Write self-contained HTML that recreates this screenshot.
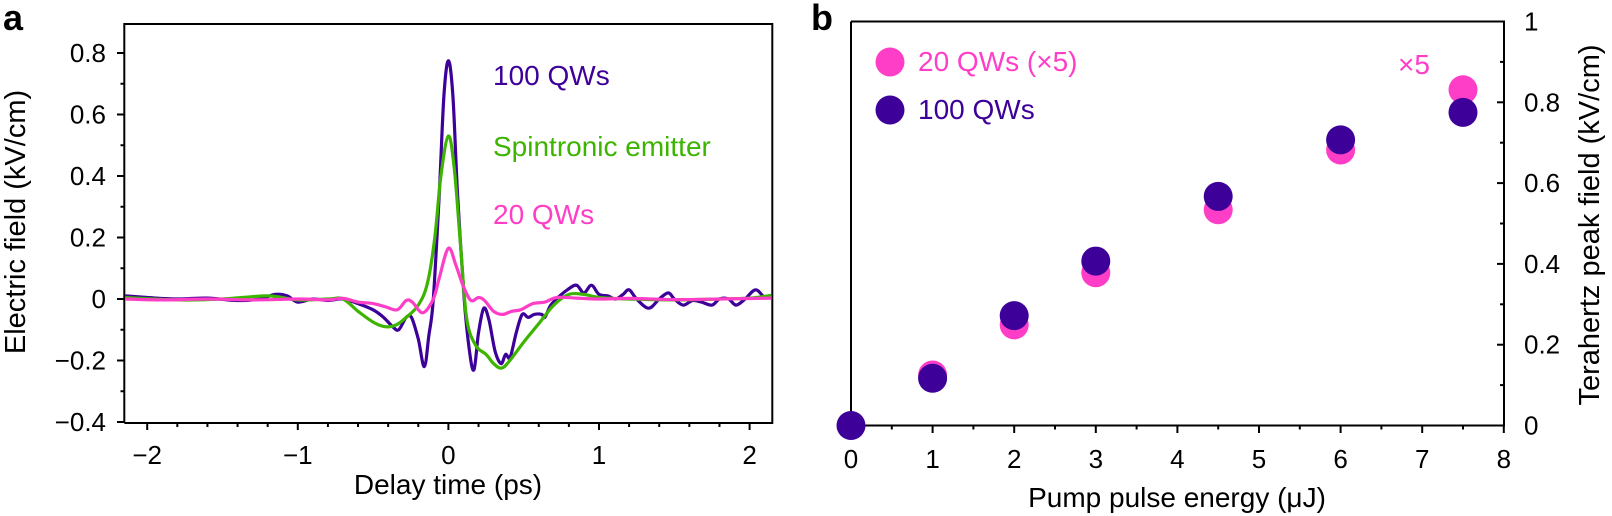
<!DOCTYPE html>
<html><head><meta charset="utf-8"><style>
html,body{margin:0;padding:0;background:#fff;}
svg{display:block;font-family:"Liberation Sans",Arial,sans-serif;}
</style></head><body>
<svg id="s" width="1612" height="516" viewBox="0 0 1612 516" xmlns="http://www.w3.org/2000/svg">
<g id="axA" stroke="#000" stroke-width="2" fill="none"></g>
<g id="curves" fill="none" stroke-width="3.2" stroke-linejoin="round"></g>
<g id="axB" stroke="#000" stroke-width="2" fill="none"></g>
<g id="dots"></g>
<g id="txt" font-size="26" fill="#000"></g>
<text x="3" y="30" font-size="36" font-weight="bold">a</text>
<text x="811" y="30" font-size="36" font-weight="bold">b</text>
<text x="493" y="85" font-size="28" fill="#3d0099">100 QWs</text>
<text x="493" y="156" font-size="28" fill="#3cb400">Spintronic emitter</text>
<text x="493" y="224" font-size="28" fill="#ff3ec8">20 QWs</text>
<text transform="translate(25,222) rotate(-90)" text-anchor="middle" font-size="29">Electric field (kV/cm)</text>
<text x="448" y="494" text-anchor="middle" font-size="28">Delay time (ps)</text>
<text x="1177" y="507" text-anchor="middle" font-size="28">Pump pulse energy (μJ)</text>
<text transform="translate(1599,225) rotate(-90)" text-anchor="middle" font-size="29">Terahertz peak field (kV/cm)</text>
<text x="918" y="71" font-size="28" fill="#ff3ec8">20 QWs (×5)</text>
<text x="918" y="119" font-size="28" fill="#3d0099">100 QWs</text>
<text x="1398" y="74" font-size="28" fill="#ff3ec8">×5</text>
</svg>
<script>
var NS="http://www.w3.org/2000/svg";
function el(p,n,a,t){var e=document.createElementNS(NS,n);for(var k in a)e.setAttribute(k,a[k]);if(t!==undefined)e.textContent=t;document.getElementById(p).appendChild(e);return e;}
var X=function(t){return 448.4+150.6*t;}, Y=function(v){return 299-307.5*v;};
el("axA","path",{d:"M124.3 423 V24 H772.3 V423 H124.3"});
for(var i=-4;i<=8;i++){var v=i/10,y=Y(v),maj=(i%2==0);el("axA","line",{x1:124.3,x2:maj?117:120.5,y1:y,y2:y});
 if(maj)el("txt","text",{x:106,y:y+9,"text-anchor":"end"},(v<0?"\u2212":"")+(Math.abs(v)<1e-9?"0":Math.abs(v).toFixed(1)));}
for(var i=-10;i<=10;i++){var t=i/5,x=X(t),maj=(i%5==0);el("axA","line",{x1:x,x2:x,y1:423,y2:maj?430:427});
 if(maj)el("txt","text",{x:x,y:464,"text-anchor":"middle"},(t<0?"\u2212":"")+Math.abs(t));}
function path(pts){var p=pts.map(function(q){return [X(q[0]),Y(q[1])];});var d="M"+p[0][0].toFixed(1)+" "+p[0][1].toFixed(1);
 for(var i=0;i<p.length-1;i++){var p0=p[i-1]||p[i],p1=p[i],p2=p[i+1],p3=p[i+2]||p2;
  var c1=[p1[0]+(p2[0]-p0[0])/6,p1[1]+(p2[1]-p0[1])/6],c2=[p2[0]-(p3[0]-p1[0])/6,p2[1]-(p3[1]-p1[1])/6];
  d+=" C"+c1[0].toFixed(1)+" "+c1[1].toFixed(1)+" "+c2[0].toFixed(1)+" "+c2[1].toFixed(1)+" "+p2[0].toFixed(1)+" "+p2[1].toFixed(1);}
 return d;}
var purple=[[-2.146,0.01],[-2.0,0.005],[-1.8,0.0],[-1.6,0.003],[-1.4,-0.005],[-1.25,0.0],[-1.15,0.015],[-1.07,0.01],[-1.0,-0.01],[-0.9,0.0],[-0.8,-0.005],[-0.7,0],[-0.6,-0.015],[-0.5,-0.035],[-0.43,-0.06],[-0.37,-0.09],[-0.33,-0.1],[-0.28,-0.06],[-0.245,-0.06],[-0.2,-0.13],[-0.16,-0.22],[-0.13,-0.12],[-0.1,0],[-0.06,0.35],[-0.03,0.66],[0,0.775],[0.03,0.66],[0.06,0.35],[0.105,0],[0.14,-0.17],[0.17,-0.23],[0.2,-0.11],[0.235,-0.03],[0.27,-0.07],[0.31,-0.17],[0.35,-0.21],[0.38,-0.18],[0.41,-0.19],[0.45,-0.11],[0.49,-0.05],[0.53,-0.06],[0.57,-0.05],[0.62,-0.05],[0.64,-0.06],[0.68,-0.02],[0.74,0.01],[0.79,0.03],[0.85,0.045],[0.9,0.02],[0.95,0.045],[1.0,0.015],[1.06,0.01],[1.11,0.0],[1.16,0.015],[1.2,0.03],[1.25,0.0],[1.33,-0.03],[1.4,0.0],[1.46,0.02],[1.5,0.0],[1.56,-0.02],[1.62,-0.005],[1.68,-0.01],[1.75,-0.02],[1.8,0.0],[1.86,0.0],[1.91,-0.02],[1.97,0.0],[2.04,0.03],[2.1,0.005],[2.146,0.01]];
var green=[[-2.146,0.005],[-1.8,-0.003],[-1.5,0],[-1.2,0.01],[-1.0,-0.003],[-0.8,0],[-0.7,0],[-0.6,-0.04],[-0.5,-0.075],[-0.42,-0.09],[-0.35,-0.085],[-0.28,-0.06],[-0.2,-0.02],[-0.14,0.05],[-0.09,0.2],[-0.05,0.4],[0,0.53],[0.04,0.42],[0.08,0.18],[0.12,-0.06],[0.18,-0.15],[0.25,-0.18],[0.3,-0.21],[0.35,-0.225],[0.4,-0.205],[0.5,-0.14],[0.6,-0.08],[0.7,-0.02],[0.8,0.015],[0.9,0.015],[1.0,0.005],[1.2,0],[1.5,-0.003],[1.8,0],[2.0,0.003],[2.146,0.012]];
var pink=[[-2.146,0],[-1.9,-0.003],[-1.6,0.0],[-1.3,-0.003],[-1.0,0.0],[-0.8,-0.003],[-0.7,0.002],[-0.6,-0.01],[-0.5,-0.015],[-0.42,-0.025],[-0.34,-0.035],[-0.28,-0.005],[-0.24,-0.01],[-0.17,-0.045],[-0.1,0.0],[-0.06,0.07],[0,0.165],[0.05,0.11],[0.1,0.04],[0.15,-0.005],[0.2,0.005],[0.24,-0.005],[0.3,-0.04],[0.36,-0.05],[0.42,-0.04],[0.48,-0.035],[0.56,-0.015],[0.64,-0.01],[0.72,0.005],[0.85,0.003],[1.0,0.0],[1.2,0.002],[1.5,-0.002],[1.8,0],[2.146,0.003]];
el("curves","path",{d:path(purple),stroke:"#3d0099"});
el("curves","path",{d:path(green),stroke:"#3cb400"});
el("curves","path",{d:path(pink),stroke:"#ff3ec8"});
var BX=function(e){return 851+81.6*e;}, BY=function(v){return 425.5-404*v;};
el("axB","path",{d:"M851 21.5 V425.5 H1504 V21.5 H851"});
for(var i=0;i<=16;i++){var e=i/2,x=BX(e),maj=(i%2==0);el("axB","line",{x1:x,x2:x,y1:425.5,y2:maj?433:429.5});
 if(maj)el("txt","text",{x:x,y:468,"text-anchor":"middle"},""+e);}
for(var i=0;i<=10;i++){var v=i/10,y=BY(v),maj=(i%2==0);el("axB","line",{x1:1504,x2:maj?1497:1500,y1:y,y2:y});
 if(maj)el("txt","text",{x:1524,y:y+9},(i==0?"0":i==10?"1":v.toFixed(1)));}
var pk=[[1,0.125],[2,0.249],[3,0.378],[4.5,0.534],[6,0.682],[7.5,0.831]];
var pu=[[0,0],[1,0.117],[2,0.272],[3,0.407],[4.5,0.567],[6,0.707],[7.5,0.775]];
pk.forEach(function(q){el("dots","circle",{cx:BX(q[0]),cy:BY(q[1]),r:14.5,fill:"#ff3ec8"});});
pu.forEach(function(q){el("dots","circle",{cx:BX(q[0]),cy:BY(q[1]),r:14.5,fill:"#3d0099"});});
el("dots","circle",{cx:890,cy:62,r:14.5,fill:"#ff3ec8"});
el("dots","circle",{cx:890,cy:110,r:14.5,fill:"#3d0099"});
</script>
</body></html>
